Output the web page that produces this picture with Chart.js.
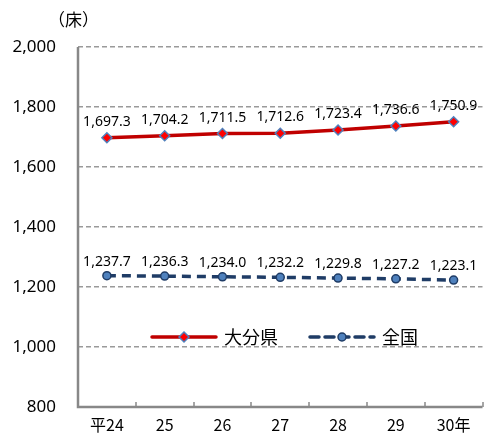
<!DOCTYPE html>
<html>
<head>
<meta charset="utf-8">
<script src="https://cdn.jsdelivr.net/npm/chart.js@4/dist/chart.umd.min.js"></script>
<style>
  html, body { margin: 0; padding: 0; background: #fff; }
  #wrap { position: relative; width: 489px; height: 441px; }
</style>
</head>
<body>
<div id="wrap"><canvas id="c" width="489" height="441"></canvas></div>
<script>
'use strict'

// data
const years = ['平24', '25', '26', '27', '28', '29', '30年']
const oitaBeds = [1697.3, 1704.2, 1711.5, 1712.6, 1723.4, 1736.6, 1750.9]
const nationBeds = [1237.7, 1236.3, 1234.0, 1232.2, 1229.8, 1227.2, 1223.1]
const seriesNames = ['大分県', '全国']
const yTicks = [800, 1000, 1200, 1400, 1600, 1800, 2000]
const unitLabel = '（床）'

const fontFamily = '"Noto Sans", "Noto Sans CJK JP", sans-serif'
const jpFont = '"Noto Sans CJK JP", "Noto Sans", sans-serif'

const fmt = v => v.toLocaleString('en-US', { minimumFractionDigits: 1, maximumFractionDigits: 1 })

// axis lines, value labels, unit label, inward x ticks, legend inside the plot
const decorPlugin = {
  id: 'decor',
  beforeDatasetsDraw(chart) {
    const ctx = chart.ctx
    const area = chart.chartArea
    const xs = chart.scales.x
    ctx.save()
    ctx.strokeStyle = '#888'
    ctx.lineWidth = 2.5
    ctx.beginPath()
    ctx.moveTo(area.left, area.top)
    ctx.lineTo(area.left, area.bottom)
    ctx.lineTo(area.right, area.bottom)
    ctx.stroke()
    // small tick marks pointing up from the x axis at category boundaries
    ctx.lineWidth = 1.5
    for (let i = 1; i <= years.length; i++) {
      const x = Math.round(xs.getPixelForValue(i - 0.5))
      ctx.beginPath()
      ctx.moveTo(x, area.bottom)
      ctx.lineTo(x, area.bottom - 5)
      ctx.stroke()
    }
    ctx.restore()
  },
  afterDatasetsDraw(chart) {
    const ctx = chart.ctx
    ctx.save()

    // value labels
    ctx.fillStyle = '#000'
    ctx.font = '14px ' + fontFamily
    ctx.textAlign = 'center'
    ctx.textBaseline = 'bottom'
    chart.data.datasets.forEach((ds, di) => {
      const meta = chart.getDatasetMeta(di)
      meta.data.forEach((pt, i) => {
        const dy = di === 0 ? 9 : 7
        ctx.fillText(fmt(ds.data[i]), pt.x, pt.y - dy)
      })
    })

    // unit label
    ctx.font = '17px ' + jpFont
    ctx.textAlign = 'left'
    ctx.textBaseline = 'middle'
    ctx.fillText(unitLabel, 48, 20)

    // legend
    const ly = 337
    const items = [
      { x: 152, ds: chart.data.datasets[0] },
      { x: 310, ds: chart.data.datasets[1] }
    ]
    items.forEach(it => {
      const ds = it.ds
      ctx.save()
      ctx.strokeStyle = ds.borderColor
      ctx.lineWidth = ds.borderWidth
      ctx.lineCap = 'round'
      ctx.setLineDash(ds.borderDash || [])
      ctx.beginPath()
      ctx.moveTo(it.x, ly)
      ctx.lineTo(it.x + 64, ly)
      ctx.stroke()
      ctx.restore()
      ctx.save()
      ctx.fillStyle = ds.pointBackgroundColor
      ctx.strokeStyle = ds.pointBorderColor
      ctx.lineWidth = ds.pointBorderWidth
      ctx.beginPath()
      const cx = it.x + 32
      const r = ds.pointRadius
      if (ds.pointStyle === 'rectRot') {
        ctx.moveTo(cx, ly - r)
        ctx.lineTo(cx + r, ly)
        ctx.lineTo(cx, ly + r)
        ctx.lineTo(cx - r, ly)
        ctx.closePath()
      } else {
        ctx.arc(cx, ly, r, 0, Math.PI * 2)
      }
      ctx.fill()
      ctx.stroke()
      ctx.restore()
      ctx.fillStyle = '#000'
      ctx.font = '18px ' + jpFont
      ctx.textAlign = 'left'
      ctx.textBaseline = 'middle'
      ctx.fillText(ds.label, it.x + 72, ly)
    })
    ctx.restore()
  }
}

const chart = new Chart(document.getElementById('c'), {
  type: 'line',
  data: {
    labels: years,
    datasets: [
      {
        label: seriesNames[0],
        data: oitaBeds,
        borderColor: '#c00000',
        borderWidth: 3.5,
        pointStyle: 'rectRot',
        pointRadius: 5,
        pointBackgroundColor: '#ff0000',
        pointBorderColor: '#4f81bd',
        pointBorderWidth: 1.5,
        tension: 0
      },
      {
        label: seriesNames[1],
        data: nationBeds,
        borderColor: '#1f3c66',
        borderWidth: 3.5,
        borderDash: [9, 6],
        pointStyle: 'circle',
        pointRadius: 4,
        pointBackgroundColor: '#4f81bd',
        pointBorderColor: '#1f3c66',
        pointBorderWidth: 1.5,
        tension: 0
      }
    ]
  },
  options: {
    responsive: false,
    animation: false,
    events: [],
    layout: { padding: { top: 47, right: 1, left: 0, bottom: 0 } },
    plugins: {
      legend: { display: false },
      tooltip: { enabled: false }
    },
    scales: {
      x: {
        offset: true,
        grid: { display: false, drawTicks: false },
        border: { display: false },
        ticks: {
          color: '#000',
          padding: 8,
          font: { size: 16, family: jpFont },
          maxRotation: 0
        },
        afterFit(scale) { scale.height = 34 }
      },
      y: {
        min: 800,
        max: 2000,
        afterBuildTicks(scale) { scale.ticks = yTicks.map(v => ({ value: v })) },
        grid: {
          color: ctx => ctx.tick && ctx.tick.value === 800 ? 'rgba(0,0,0,0)' : '#9a9a9a',
          lineWidth: 1.5,
          drawTicks: false
        },
        border: { display: false, dash: [5, 3] },
        ticks: {
          color: '#000',
          padding: 22,
          font: { size: 17, family: fontFamily },
          callback: v => v.toLocaleString('en-US')
        },
        afterFit(scale) { scale.width = 78 }
      }
    }
  },
  plugins: [decorPlugin]
})
</script>
</body>
</html>
